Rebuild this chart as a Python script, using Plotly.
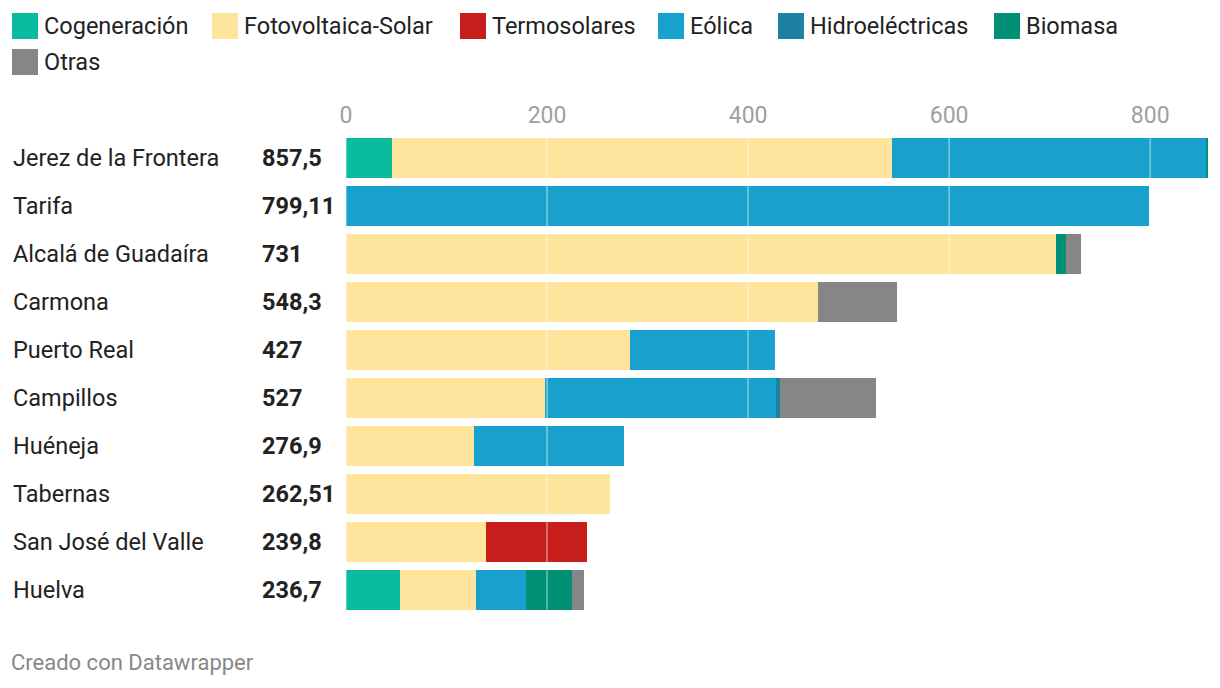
import plotly.graph_objects as go

places = ["Jerez de la Frontera", "Tarifa", "Alcalá de Guadaíra", "Carmona", "Puerto Real",
          "Campillos", "Huéneja", "Tabernas", "San José del Valle", "Huelva"]
total_labels = ["857,5", "799,11", "731", "548,3", "427", "527", "276,9", "262,51", "239,8", "236,7"]
tick_values = [0, 200, 400, 600, 800]

cogeneracion = [45.8, 0, 0, 0, 0, 0, 0, 0, 0, 53.7]
fotovoltaica = [497.5, 0, 706.5, 469.7, 282.6, 197.5, 127.4, 262.51, 139.3, 75.7]
termosolares = [0, 0, 0, 0, 0, 0, 0, 0, 100.5, 0]
eolica = [312.4, 799.11, 0, 0, 144.4, 230.0, 149.5, 0, 0, 49.7]
hidroelectricas = [0, 0, 0, 0, 0, 4.0, 0, 0, 0, 0]
biomasa = [1.8, 0, 10.0, 0, 0, 0, 0, 0, 0, 45.8]
otras = [0, 0, 14.5, 78.6, 0, 95.5, 0, 0, 0, 11.8]

series = [
    ("Cogeneración", cogeneracion, "#0bbb9f"),
    ("Fotovoltaica-Solar", fotovoltaica, "#fee49d"),
    ("Termosolares", termosolares, "#c71e1d"),
    ("Eólica", eolica, "#18a1cd"),
    ("Hidroeléctricas", hidroelectricas, "#1d81a2"),
    ("Biomasa", biomasa, "#009076"),
    ("Otras", otras, "#868686"),
]

OFF = 8  # page body margin
W, H = 1220, 688
ML, MT = 346 - OFF, 134 - OFF
MR = W - (1208 - OFF)
MB = H - (614 - OFF)
PW = W - ML - MR
PH = H - MT - MB


def px_x(px):
    return (px - OFF - ML) / PW


def px_y(py):
    return (H - MB - (py - OFF)) / PH


fig = go.Figure()
for name, vals, color in series:
    fig.add_trace(go.Bar(y=places, x=vals, name=name, orientation="h",
                         marker=dict(color=color, line=dict(width=0)),
                         showlegend=False, hoverinfo="x+name"))

font_family = "Roboto, 'Open Sans', sans-serif"
annotations = []
shapes = []
for p, t in zip(places, total_labels):
    annotations.append(dict(x=px_x(10.5), y=p, xref="paper", yref="y", text=p,
                            xanchor="left", yanchor="middle", showarrow=False,
                            font=dict(family=font_family, size=23.5, color="#222")))
    annotations.append(dict(x=px_x(260), y=p, xref="paper", yref="y", text="<b>" + t + "</b>",
                            xanchor="left", yanchor="middle", showarrow=False,
                            font=dict(family=font_family, size=23.5, color="#222")))

# gridlines drawn over the bars
for tv in tick_values:
    shapes.append(dict(type="line", xref="x", yref="paper", x0=tv, x1=tv, y0=0, y1=1,
                       line=dict(color="rgba(255,255,255,0.45)", width=1.5), layer="above"))

# manual legend
legend_pos = [(12, 26), (212, 26), (460, 26), (658, 26), (778, 26), (994, 26), (12, 62)]
for (name, vals, color), (lx, ly) in zip(series, legend_pos):
    shapes.append(dict(type="rect", xref="paper", yref="paper",
                       x0=px_x(lx), x1=px_x(lx + 26), y0=px_y(ly - 13), y1=px_y(ly + 13),
                       fillcolor=color, line=dict(width=0)))
    annotations.append(dict(x=px_x(lx + 30), y=px_y(ly), xref="paper", yref="paper", text=name,
                            xanchor="left", yanchor="middle", showarrow=False,
                            font=dict(family=font_family, size=23.5, color="#222")))

annotations.append(dict(x=px_x(9), y=px_y(662), xref="paper", yref="paper",
                        text="Creado con Datawrapper", xanchor="left", yanchor="middle",
                        showarrow=False, font=dict(family=font_family, size=22, color="#888")))

fig.update_layout(
    width=W, height=H,
    margin=dict(l=ML, r=MR, t=MT, b=MB, pad=0),
    barmode="stack", bargap=0.17,
    plot_bgcolor="white", paper_bgcolor="white",
    showlegend=False,
    font=dict(family=font_family),
    annotations=annotations, shapes=shapes,
    xaxis=dict(side="top", range=[0, 857.5], tickvals=tick_values,
               showgrid=False, zeroline=False, showline=False, ticks="",
               tickfont=dict(family=font_family, size=23, color="#a0a0a0"),
               ticklabelstandoff=5, fixedrange=True),
    yaxis=dict(autorange="reversed", showticklabels=False, showgrid=False,
               zeroline=False, showline=False, ticks="", fixedrange=True),
)

fig.write_html("out.html")
